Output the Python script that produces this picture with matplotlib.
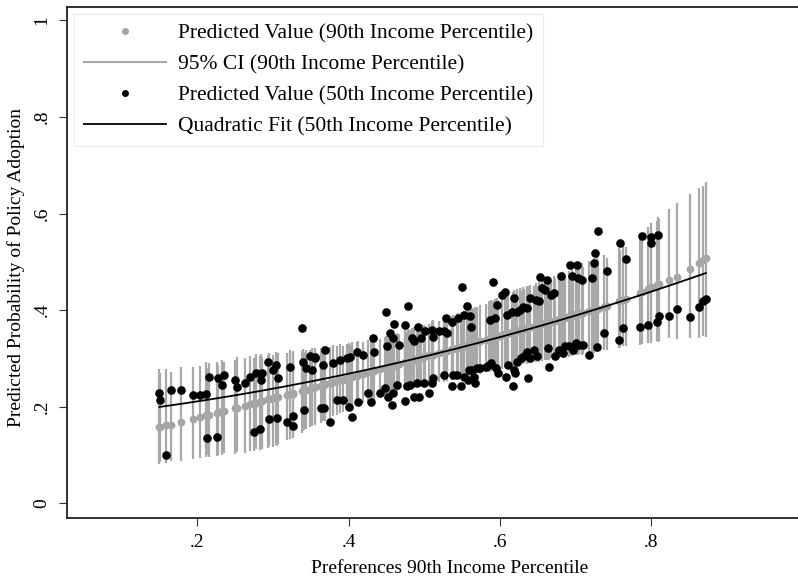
import numpy as np
import matplotlib
matplotlib.use("Agg")
import matplotlib.pyplot as plt
from matplotlib.lines import Line2D

plt.rcParams['font.family'] = ['Liberation Serif', 'DejaVu Serif']

# Preference of the 90th income percentile for each observation
pref90 = [
    0.150, 0.151, 0.159, 0.166, 0.179, 0.195, 0.204, 0.212, 0.213, 0.215,
    0.226, 0.228, 0.233, 0.236, 0.250, 0.252, 0.263, 0.270, 0.275, 0.277,
    0.283, 0.284, 0.286, 0.294, 0.295, 0.300, 0.304, 0.306, 0.307, 0.319,
    0.323, 0.326, 0.327, 0.339, 0.340, 0.341, 0.344, 0.349, 0.352, 0.355,
    0.356, 0.363, 0.366, 0.367, 0.369, 0.376, 0.380, 0.385, 0.389, 0.393,
    0.398, 0.400, 0.402, 0.405, 0.411, 0.412, 0.419, 0.426, 0.429, 0.432,
    0.433, 0.442, 0.448, 0.450, 0.451, 0.452, 0.455, 0.457, 0.459, 0.459,
    0.460, 0.464, 0.466, 0.474, 0.475, 0.477, 0.478, 0.481, 0.484, 0.486,
    0.486, 0.490, 0.492, 0.493, 0.495, 0.499, 0.501, 0.506, 0.510, 0.510,
    0.512, 0.512, 0.519, 0.526, 0.526, 0.528, 0.530, 0.537, 0.537, 0.538,
    0.543, 0.545, 0.548, 0.550, 0.552, 0.552, 0.557, 0.558, 0.559, 0.561,
    0.562, 0.563, 0.565, 0.567, 0.570, 0.574, 0.581, 0.585, 0.587, 0.588,
    0.591, 0.594, 0.595, 0.596, 0.598, 0.603, 0.607, 0.608, 0.609, 0.611,
    0.616, 0.617, 0.618, 0.619, 0.620, 0.622, 0.623, 0.627, 0.628, 0.631,
    0.632, 0.635, 0.636, 0.637, 0.639, 0.640, 0.645, 0.647, 0.649, 0.651,
    0.653, 0.656, 0.660, 0.662, 0.663, 0.665, 0.667, 0.671, 0.672, 0.678,
    0.681, 0.683, 0.686, 0.691, 0.693, 0.695, 0.696, 0.700, 0.702, 0.703,
    0.705, 0.708, 0.709, 0.717, 0.722, 0.724, 0.726, 0.728, 0.729, 0.737,
    0.741, 0.757, 0.759, 0.763, 0.766, 0.785, 0.788, 0.796, 0.799, 0.800,
    0.807, 0.809, 0.810, 0.823, 0.834, 0.851, 0.863, 0.868, 0.872,
]

# Predicted probability at the 50th income percentile
pred50 = [
    0.228, 0.214, 0.100, 0.235, 0.235, 0.224, 0.224, 0.226, 0.135, 0.262,
    0.138, 0.260, 0.245, 0.266, 0.255, 0.241, 0.250, 0.262, 0.147, 0.270,
    0.154, 0.255, 0.270, 0.293, 0.175, 0.276, 0.287, 0.177, 0.260, 0.168,
    0.283, 0.160, 0.181, 0.363, 0.293, 0.193, 0.280, 0.305, 0.276, 0.300,
    0.303, 0.197, 0.287, 0.197, 0.318, 0.168, 0.290, 0.214, 0.297, 0.214,
    0.300, 0.200, 0.303, 0.179, 0.314, 0.210, 0.307, 0.228, 0.210, 0.342,
    0.314, 0.228, 0.238, 0.397, 0.325, 0.221, 0.352, 0.204, 0.342, 0.228,
    0.372, 0.245, 0.328, 0.211, 0.369, 0.242, 0.409, 0.245, 0.342, 0.335,
    0.221, 0.249, 0.366, 0.221, 0.342, 0.249, 0.356, 0.228, 0.359, 0.249,
    0.345, 0.259, 0.356, 0.356, 0.266, 0.383, 0.352, 0.376, 0.242, 0.266,
    0.266, 0.383, 0.242, 0.447, 0.390, 0.262, 0.409, 0.255, 0.276, 0.387,
    0.366, 0.276, 0.262, 0.249, 0.280, 0.280, 0.283, 0.287, 0.380, 0.290,
    0.458, 0.383, 0.280, 0.411, 0.269, 0.432, 0.438, 0.262, 0.390, 0.287,
    0.397, 0.242, 0.276, 0.425, 0.269, 0.397, 0.293, 0.400, 0.300, 0.407,
    0.304, 0.314, 0.404, 0.259, 0.300, 0.425, 0.318, 0.421, 0.304, 0.418,
    0.468, 0.445, 0.442, 0.463, 0.321, 0.283, 0.432, 0.435, 0.304, 0.318,
    0.470, 0.311, 0.325, 0.325, 0.494, 0.470, 0.318, 0.331, 0.494, 0.466,
    0.328, 0.463, 0.328, 0.307, 0.467, 0.497, 0.519, 0.324, 0.564, 0.352,
    0.482, 0.338, 0.540, 0.362, 0.505, 0.366, 0.554, 0.369, 0.552, 0.540,
    0.376, 0.556, 0.388, 0.388, 0.402, 0.385, 0.406, 0.418, 0.423,
]

# Predicted probability at the 90th income percentile and its 95% CI
pred90 = [
    0.157, 0.157, 0.161, 0.163, 0.169, 0.175, 0.179, 0.182, 0.182, 0.183,
    0.187, 0.188, 0.190, 0.191, 0.197, 0.198, 0.202, 0.205, 0.207, 0.208,
    0.210, 0.211, 0.211, 0.215, 0.215, 0.217, 0.219, 0.219, 0.220, 0.225,
    0.226, 0.227, 0.228, 0.233, 0.233, 0.234, 0.235, 0.237, 0.238, 0.240,
    0.240, 0.243, 0.245, 0.245, 0.246, 0.249, 0.251, 0.253, 0.255, 0.256,
    0.259, 0.259, 0.260, 0.262, 0.264, 0.265, 0.268, 0.271, 0.272, 0.273,
    0.274, 0.278, 0.280, 0.281, 0.282, 0.282, 0.283, 0.284, 0.285, 0.285,
    0.286, 0.287, 0.288, 0.292, 0.292, 0.293, 0.293, 0.295, 0.296, 0.297,
    0.297, 0.299, 0.300, 0.300, 0.301, 0.303, 0.304, 0.306, 0.307, 0.307,
    0.308, 0.308, 0.311, 0.314, 0.314, 0.315, 0.316, 0.319, 0.319, 0.320,
    0.322, 0.323, 0.324, 0.325, 0.326, 0.326, 0.328, 0.328, 0.329, 0.330,
    0.330, 0.331, 0.332, 0.332, 0.334, 0.335, 0.339, 0.340, 0.341, 0.342,
    0.343, 0.344, 0.345, 0.345, 0.346, 0.348, 0.350, 0.350, 0.351, 0.352,
    0.354, 0.354, 0.355, 0.355, 0.356, 0.356, 0.357, 0.359, 0.359, 0.360,
    0.361, 0.362, 0.363, 0.363, 0.364, 0.364, 0.366, 0.367, 0.368, 0.369,
    0.370, 0.371, 0.373, 0.374, 0.374, 0.375, 0.376, 0.378, 0.378, 0.381,
    0.382, 0.383, 0.384, 0.387, 0.387, 0.388, 0.389, 0.391, 0.391, 0.392,
    0.393, 0.394, 0.394, 0.398, 0.400, 0.401, 0.402, 0.403, 0.403, 0.407,
    0.408, 0.418, 0.420, 0.422, 0.424, 0.436, 0.438, 0.443, 0.446, 0.447,
    0.452, 0.453, 0.454, 0.463, 0.469, 0.486, 0.498, 0.503, 0.507,
]

ci90_low = [
    0.082, 0.085, 0.084, 0.088, 0.088, 0.091, 0.093, 0.095, 0.099, 0.096,
    0.097, 0.100, 0.099, 0.103, 0.102, 0.106, 0.105, 0.108, 0.109, 0.112,
    0.110, 0.114, 0.112, 0.115, 0.118, 0.117, 0.121, 0.118, 0.122, 0.130,
    0.133, 0.136, 0.138, 0.145, 0.150, 0.152, 0.154, 0.157, 0.160, 0.162,
    0.165, 0.166, 0.170, 0.172, 0.170, 0.176, 0.180, 0.182, 0.186, 0.188,
    0.194, 0.196, 0.197, 0.199, 0.201, 0.203, 0.207, 0.210, 0.212, 0.214,
    0.213, 0.224, 0.226, 0.225, 0.228, 0.226, 0.229, 0.230, 0.231, 0.228,
    0.232, 0.232, 0.234, 0.236, 0.235, 0.238, 0.236, 0.239, 0.240, 0.241,
    0.238, 0.242, 0.243, 0.241, 0.244, 0.245, 0.246, 0.247, 0.249, 0.246,
    0.250, 0.248, 0.252, 0.254, 0.251, 0.255, 0.254, 0.258, 0.255, 0.259,
    0.260, 0.259, 0.262, 0.261, 0.263, 0.260, 0.265, 0.262, 0.266, 0.264,
    0.267, 0.265, 0.268, 0.266, 0.269, 0.268, 0.272, 0.271, 0.275, 0.273,
    0.276, 0.275, 0.278, 0.276, 0.279, 0.278, 0.281, 0.279, 0.283, 0.281,
    0.284, 0.282, 0.286, 0.284, 0.287, 0.285, 0.288, 0.287, 0.290, 0.288,
    0.291, 0.289, 0.292, 0.290, 0.293, 0.291, 0.294, 0.292, 0.295, 0.293,
    0.296, 0.294, 0.297, 0.296, 0.299, 0.297, 0.300, 0.298, 0.301, 0.300,
    0.303, 0.301, 0.304, 0.303, 0.306, 0.304, 0.307, 0.306, 0.308, 0.306,
    0.309, 0.308, 0.310, 0.311, 0.313, 0.312, 0.315, 0.314, 0.316, 0.318,
    0.318, 0.322, 0.324, 0.325, 0.326, 0.328, 0.330, 0.331, 0.333, 0.332,
    0.335, 0.334, 0.336, 0.342, 0.340, 0.343, 0.342, 0.346, 0.345,
]

ci90_high = [
    0.277, 0.270, 0.279, 0.272, 0.283, 0.282, 0.285, 0.292, 0.280, 0.291,
    0.292, 0.286, 0.296, 0.293, 0.297, 0.302, 0.300, 0.305, 0.301, 0.309,
    0.305, 0.310, 0.302, 0.306, 0.312, 0.307, 0.313, 0.306, 0.312, 0.312,
    0.318, 0.312, 0.316, 0.316, 0.320, 0.313, 0.318, 0.317, 0.322, 0.318,
    0.321, 0.321, 0.325, 0.320, 0.326, 0.324, 0.327, 0.325, 0.329, 0.326,
    0.329, 0.331, 0.328, 0.333, 0.333, 0.336, 0.334, 0.339, 0.337, 0.342,
    0.340, 0.340, 0.344, 0.347, 0.343, 0.348, 0.345, 0.350, 0.347, 0.351,
    0.349, 0.352, 0.350, 0.356, 0.358, 0.355, 0.360, 0.358, 0.362, 0.360,
    0.364, 0.362, 0.366, 0.364, 0.367, 0.370, 0.368, 0.372, 0.374, 0.377,
    0.375, 0.379, 0.378, 0.383, 0.381, 0.385, 0.383, 0.388, 0.386, 0.390,
    0.392, 0.394, 0.393, 0.397, 0.396, 0.399, 0.400, 0.402, 0.399, 0.404,
    0.402, 0.405, 0.403, 0.407, 0.406, 0.410, 0.413, 0.418, 0.415, 0.420,
    0.418, 0.423, 0.420, 0.425, 0.422, 0.428, 0.426, 0.432, 0.429, 0.434,
    0.431, 0.438, 0.434, 0.441, 0.436, 0.443, 0.438, 0.445, 0.440, 0.447,
    0.443, 0.449, 0.444, 0.451, 0.446, 0.453, 0.449, 0.456, 0.451, 0.459,
    0.454, 0.462, 0.457, 0.465, 0.460, 0.468, 0.462, 0.471, 0.466, 0.475,
    0.470, 0.478, 0.473, 0.482, 0.476, 0.486, 0.479, 0.490, 0.483, 0.494,
    0.486, 0.497, 0.489, 0.501, 0.494, 0.508, 0.499, 0.512, 0.503, 0.515,
    0.509, 0.528, 0.524, 0.535, 0.531, 0.560, 0.553, 0.572, 0.566, 0.580,
    0.585, 0.592, 0.588, 0.610, 0.622, 0.641, 0.652, 0.658, 0.665,
]

x = np.array(pref90)
p50 = np.array(pred50)
p90 = np.array(pred90)
lo = np.array(ci90_low)
hi = np.array(ci90_high)

GRAY = '#a8a8a8'
GRAY_PT = '#a3a3a3'

fig = plt.figure(figsize=(7.98, 5.77), dpi=100)
ax = fig.add_axes([0.084, 0.1028, 0.9165, 0.8851])

# 90th percentile predictions with their confidence intervals
ax.plot(x, p90, 'o', color=GRAY_PT, ms=5.6, mec='none', zorder=2)
ax.vlines(x, lo, hi, color=GRAY, lw=1.6, zorder=3)

# 50th percentile predictions
ax.plot(x, p50, 'o', color='black', ms=6.2, mec='none', zorder=4)

# Quadratic fit of the 50th percentile predictions
coef = np.polyfit(x, p50, 2)
xs = np.linspace(x.min(), x.max(), 200)
ax.plot(xs, np.polyval(coef, xs), color='black', lw=1.3, zorder=5)

ax.set_xlim(0.028, 0.9942)
ax.set_ylim(-0.030, 1.028)

ax.set_xticks([0.2, 0.4, 0.6, 0.8])
ax.set_xticklabels(['.2', '.4', '.6', '.8'])
ax.set_yticks([0, 0.2, 0.4, 0.6, 0.8, 1.0])
ax.set_yticklabels(['0', '.2', '.4', '.6', '.8', '1'], rotation=90, va='center')

ax.tick_params(axis='both', direction='out', length=6, width=0.8,
               color='#333333', labelsize=14, pad=6)

for side in ('left', 'bottom', 'top'):
    ax.spines[side].set_linewidth(1.3)
    ax.spines[side].set_color('#222222')
ax.spines['right'].set_visible(False)

ax.set_xlabel('Preferences 90th Income Percentile', fontsize=14)
ax.set_ylabel('Predicted Probability of Policy Adoption', fontsize=14)
ax.xaxis.set_label_coords(0.5226, -0.082)
ax.yaxis.set_label_coords(-0.057, 0.49)

handles = [
    Line2D([], [], ls='none', marker='o', color=GRAY_PT, ms=5, mec='none'),
    Line2D([], [], color=GRAY, lw=1.5),
    Line2D([], [], ls='none', marker='o', color='black', ms=5, mec='none'),
    Line2D([], [], color='black', lw=1.3),
]
labels = [
    'Predicted Value (90th Income Percentile)',
    '95% CI (90th Income Percentile)',
    'Predicted Value (50th Income Percentile)',
    'Quadratic Fit (50th Income Percentile)',
]
leg = ax.legend(handles, labels, loc='upper left',
                bbox_to_anchor=(0.0096, 0.986), fontsize=15.5,
                handlelength=3.8, handletextpad=0.56, labelspacing=0.5,
                borderpad=0.45, borderaxespad=0, fancybox=False,
                frameon=True, framealpha=1, edgecolor='#e6ecee')
leg.get_frame().set_linewidth(0.8)

fig.savefig('out.png', dpi=100)
